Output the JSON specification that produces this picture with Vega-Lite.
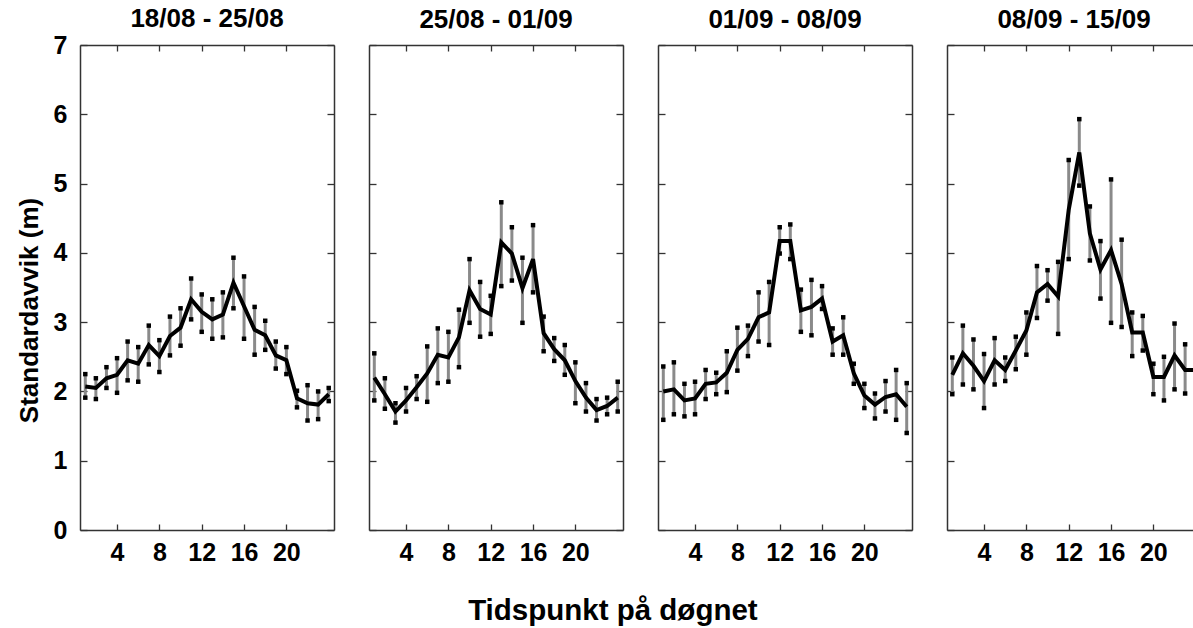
{
  "$schema": "https://vega.github.io/schema/vega-lite/v6.json",
  "padding": {"left": 16, "top": 6, "right": 0, "bottom": 0},
  "background": "white",
  "config": {
    "font": "Liberation Sans",
    "view": {"stroke": null},
    "axis": {"labelFont": "Liberation Sans", "labelFontWeight": "bold", "labelFontSize": 25, "labelColor": "black",
      "titleFont": "Liberation Sans", "titleFontWeight": "bold", "titleFontSize": 26, "titleColor": "black",
      "domainColor": "#333", "domainWidth": 1.5, "tickColor": "#333", "tickWidth": 1.3, "grid": false},
    "title": {"font": "Liberation Sans", "fontWeight": "bold", "fontSize": 26, "color": "black"},
    "concat": {"spacing": 29}
  },
  "title": {"text": "Tidspunkt på døgnet", "orient": "bottom", "anchor": "middle", "offset": 32, "dx": 3, "fontSize": 29.5, "fontWeight": "bold"},
  "datasets": {
    "d": [
      {"w": "18/08 - 25/08", "h": 1, "m": 2.07, "lo": 1.91, "hi": 2.25},
      {"w": "18/08 - 25/08", "h": 2, "m": 2.05, "lo": 1.89, "hi": 2.19},
      {"w": "18/08 - 25/08", "h": 3, "m": 2.19, "lo": 2.05, "hi": 2.35},
      {"w": "18/08 - 25/08", "h": 4, "m": 2.24, "lo": 1.98, "hi": 2.48},
      {"w": "18/08 - 25/08", "h": 5, "m": 2.45, "lo": 2.16, "hi": 2.72},
      {"w": "18/08 - 25/08", "h": 6, "m": 2.40, "lo": 2.14, "hi": 2.64},
      {"w": "18/08 - 25/08", "h": 7, "m": 2.67, "lo": 2.39, "hi": 2.95},
      {"w": "18/08 - 25/08", "h": 8, "m": 2.51, "lo": 2.28, "hi": 2.74},
      {"w": "18/08 - 25/08", "h": 9, "m": 2.80, "lo": 2.52, "hi": 3.08},
      {"w": "18/08 - 25/08", "h": 10, "m": 2.92, "lo": 2.66, "hi": 3.20},
      {"w": "18/08 - 25/08", "h": 11, "m": 3.33, "lo": 3.04, "hi": 3.63},
      {"w": "18/08 - 25/08", "h": 12, "m": 3.15, "lo": 2.86, "hi": 3.40},
      {"w": "18/08 - 25/08", "h": 13, "m": 3.04, "lo": 2.76, "hi": 3.33},
      {"w": "18/08 - 25/08", "h": 14, "m": 3.11, "lo": 2.78, "hi": 3.43},
      {"w": "18/08 - 25/08", "h": 15, "m": 3.57, "lo": 3.20, "hi": 3.93},
      {"w": "18/08 - 25/08", "h": 16, "m": 3.23, "lo": 2.76, "hi": 3.66},
      {"w": "18/08 - 25/08", "h": 17, "m": 2.89, "lo": 2.53, "hi": 3.22},
      {"w": "18/08 - 25/08", "h": 18, "m": 2.81, "lo": 2.60, "hi": 3.02},
      {"w": "18/08 - 25/08", "h": 19, "m": 2.52, "lo": 2.33, "hi": 2.72},
      {"w": "18/08 - 25/08", "h": 20, "m": 2.45, "lo": 2.25, "hi": 2.64},
      {"w": "18/08 - 25/08", "h": 21, "m": 1.90, "lo": 1.77, "hi": 2.01},
      {"w": "18/08 - 25/08", "h": 22, "m": 1.83, "lo": 1.58, "hi": 2.09},
      {"w": "18/08 - 25/08", "h": 23, "m": 1.81, "lo": 1.60, "hi": 2.00},
      {"w": "18/08 - 25/08", "h": 24, "m": 1.96, "lo": 1.86, "hi": 2.05},
      {"w": "25/08 - 01/09", "h": 1, "m": 2.20, "lo": 1.87, "hi": 2.55},
      {"w": "25/08 - 01/09", "h": 2, "m": 1.96, "lo": 1.75, "hi": 2.19},
      {"w": "25/08 - 01/09", "h": 3, "m": 1.71, "lo": 1.55, "hi": 1.83},
      {"w": "25/08 - 01/09", "h": 4, "m": 1.87, "lo": 1.71, "hi": 2.05},
      {"w": "25/08 - 01/09", "h": 5, "m": 2.06, "lo": 1.89, "hi": 2.22},
      {"w": "25/08 - 01/09", "h": 6, "m": 2.26, "lo": 1.85, "hi": 2.65},
      {"w": "25/08 - 01/09", "h": 7, "m": 2.53, "lo": 2.12, "hi": 2.91},
      {"w": "25/08 - 01/09", "h": 8, "m": 2.49, "lo": 2.14, "hi": 2.86},
      {"w": "25/08 - 01/09", "h": 9, "m": 2.78, "lo": 2.35, "hi": 3.18},
      {"w": "25/08 - 01/09", "h": 10, "m": 3.46, "lo": 2.99, "hi": 3.91},
      {"w": "25/08 - 01/09", "h": 11, "m": 3.19, "lo": 2.79, "hi": 3.58},
      {"w": "25/08 - 01/09", "h": 12, "m": 3.11, "lo": 2.83, "hi": 3.38},
      {"w": "25/08 - 01/09", "h": 13, "m": 4.15, "lo": 3.52, "hi": 4.73},
      {"w": "25/08 - 01/09", "h": 14, "m": 3.99, "lo": 3.60, "hi": 4.37},
      {"w": "25/08 - 01/09", "h": 15, "m": 3.49, "lo": 2.99, "hi": 3.93},
      {"w": "25/08 - 01/09", "h": 16, "m": 3.91, "lo": 3.43, "hi": 4.40},
      {"w": "25/08 - 01/09", "h": 17, "m": 2.84, "lo": 2.58, "hi": 3.08},
      {"w": "25/08 - 01/09", "h": 18, "m": 2.61, "lo": 2.44, "hi": 2.77},
      {"w": "25/08 - 01/09", "h": 19, "m": 2.45, "lo": 2.24, "hi": 2.67},
      {"w": "25/08 - 01/09", "h": 20, "m": 2.15, "lo": 1.83, "hi": 2.42},
      {"w": "25/08 - 01/09", "h": 21, "m": 1.91, "lo": 1.71, "hi": 2.12},
      {"w": "25/08 - 01/09", "h": 22, "m": 1.73, "lo": 1.58, "hi": 1.89},
      {"w": "25/08 - 01/09", "h": 23, "m": 1.79, "lo": 1.67, "hi": 1.91},
      {"w": "25/08 - 01/09", "h": 24, "m": 1.91, "lo": 1.71, "hi": 2.14},
      {"w": "01/09 - 08/09", "h": 1, "m": 2.00, "lo": 1.59, "hi": 2.36},
      {"w": "01/09 - 08/09", "h": 2, "m": 2.03, "lo": 1.67, "hi": 2.42},
      {"w": "01/09 - 08/09", "h": 3, "m": 1.87, "lo": 1.64, "hi": 2.11},
      {"w": "01/09 - 08/09", "h": 4, "m": 1.90, "lo": 1.67, "hi": 2.14},
      {"w": "01/09 - 08/09", "h": 5, "m": 2.11, "lo": 1.89, "hi": 2.31},
      {"w": "01/09 - 08/09", "h": 6, "m": 2.13, "lo": 1.96, "hi": 2.27},
      {"w": "01/09 - 08/09", "h": 7, "m": 2.27, "lo": 1.99, "hi": 2.58},
      {"w": "01/09 - 08/09", "h": 8, "m": 2.60, "lo": 2.30, "hi": 2.92},
      {"w": "01/09 - 08/09", "h": 9, "m": 2.76, "lo": 2.51, "hi": 2.95},
      {"w": "01/09 - 08/09", "h": 10, "m": 3.07, "lo": 2.72, "hi": 3.43},
      {"w": "01/09 - 08/09", "h": 11, "m": 3.14, "lo": 2.67, "hi": 3.58},
      {"w": "01/09 - 08/09", "h": 12, "m": 4.17, "lo": 3.99, "hi": 4.37},
      {"w": "01/09 - 08/09", "h": 13, "m": 4.17, "lo": 3.91, "hi": 4.41},
      {"w": "01/09 - 08/09", "h": 14, "m": 3.17, "lo": 2.86, "hi": 3.47},
      {"w": "01/09 - 08/09", "h": 15, "m": 3.22, "lo": 2.81, "hi": 3.61},
      {"w": "01/09 - 08/09", "h": 16, "m": 3.34, "lo": 3.19, "hi": 3.52},
      {"w": "01/09 - 08/09", "h": 17, "m": 2.72, "lo": 2.53, "hi": 2.91},
      {"w": "01/09 - 08/09", "h": 18, "m": 2.81, "lo": 2.53, "hi": 3.07},
      {"w": "01/09 - 08/09", "h": 19, "m": 2.26, "lo": 2.11, "hi": 2.40},
      {"w": "01/09 - 08/09", "h": 20, "m": 1.94, "lo": 1.76, "hi": 2.11},
      {"w": "01/09 - 08/09", "h": 21, "m": 1.81, "lo": 1.61, "hi": 1.97},
      {"w": "01/09 - 08/09", "h": 22, "m": 1.92, "lo": 1.71, "hi": 2.15},
      {"w": "01/09 - 08/09", "h": 23, "m": 1.96, "lo": 1.59, "hi": 2.31},
      {"w": "01/09 - 08/09", "h": 24, "m": 1.78, "lo": 1.40, "hi": 2.12},
      {"w": "08/09 - 15/09", "h": 1, "m": 2.24, "lo": 1.96, "hi": 2.49},
      {"w": "08/09 - 15/09", "h": 2, "m": 2.55, "lo": 2.10, "hi": 2.95},
      {"w": "08/09 - 15/09", "h": 3, "m": 2.37, "lo": 2.03, "hi": 2.75},
      {"w": "08/09 - 15/09", "h": 4, "m": 2.15, "lo": 1.76, "hi": 2.54},
      {"w": "08/09 - 15/09", "h": 5, "m": 2.45, "lo": 2.10, "hi": 2.77},
      {"w": "08/09 - 15/09", "h": 6, "m": 2.31, "lo": 2.15, "hi": 2.49},
      {"w": "08/09 - 15/09", "h": 7, "m": 2.59, "lo": 2.32, "hi": 2.79},
      {"w": "08/09 - 15/09", "h": 8, "m": 2.88, "lo": 2.53, "hi": 3.14},
      {"w": "08/09 - 15/09", "h": 9, "m": 3.43, "lo": 3.06, "hi": 3.81},
      {"w": "08/09 - 15/09", "h": 10, "m": 3.55, "lo": 3.31, "hi": 3.75},
      {"w": "08/09 - 15/09", "h": 11, "m": 3.37, "lo": 2.83, "hi": 3.87},
      {"w": "08/09 - 15/09", "h": 12, "m": 4.62, "lo": 3.91, "hi": 5.34},
      {"w": "08/09 - 15/09", "h": 13, "m": 5.45, "lo": 4.97, "hi": 5.93},
      {"w": "08/09 - 15/09", "h": 14, "m": 4.28, "lo": 3.89, "hi": 4.67},
      {"w": "08/09 - 15/09", "h": 15, "m": 3.76, "lo": 3.34, "hi": 4.17},
      {"w": "08/09 - 15/09", "h": 16, "m": 4.04, "lo": 2.99, "hi": 5.06},
      {"w": "08/09 - 15/09", "h": 17, "m": 3.55, "lo": 2.93, "hi": 4.19},
      {"w": "08/09 - 15/09", "h": 18, "m": 2.85, "lo": 2.51, "hi": 3.14},
      {"w": "08/09 - 15/09", "h": 19, "m": 2.85, "lo": 2.59, "hi": 3.09},
      {"w": "08/09 - 15/09", "h": 20, "m": 2.21, "lo": 1.96, "hi": 2.40},
      {"w": "08/09 - 15/09", "h": 21, "m": 2.21, "lo": 1.87, "hi": 2.50},
      {"w": "08/09 - 15/09", "h": 22, "m": 2.52, "lo": 2.03, "hi": 2.98},
      {"w": "08/09 - 15/09", "h": 23, "m": 2.31, "lo": 1.97, "hi": 2.68},
      {"w": "08/09 - 15/09", "h": 24, "m": 2.31, "lo": 2.01, "hi": 2.61}
    ]
  },
  "data": {"name": "d"},
  "hconcat": [
    {
      "width": 254, "height": 485,
      "title": {"text": "18/08 - 25/08", "offset": 1, "frame": "group"},
      "transform": [{"filter": "datum.w == '18/08 - 25/08'"}],
      "layer": [
        {"mark": {"type": "rule", "color": "#8a8a8a", "strokeWidth": 3},
         "encoding": {
           "x": {"field": "h", "type": "quantitative", "scale": {"domain": [0.5, 24.5], "nice": false, "zero": false},
                 "axis": {"orient": "bottom", "values": [4, 8, 12, 16, 20], "tickSize": -6, "labelPadding": 16, "title": null, "labelFlush": false}},
           "y": {"field": "lo", "type": "quantitative", "scale": {"domain": [0, 7], "nice": false},
                 "axis": {"orient": "left", "values": [0, 1, 2, 3, 4, 5, 6, 7], "tickSize": -7, "labelPadding": 20, "title": "Standardavvik (m)", "titlePadding": 11, "titleY": 265, "labelFlush": false}},
           "y2": {"field": "hi"}}},
        {"mark": {"type": "square", "color": "black", "size": 20, "opacity": 1},
         "encoding": {"x": {"field": "h", "type": "quantitative", "axis": null}, "y": {"field": "lo", "type": "quantitative", "axis": null}}},
        {"mark": {"type": "square", "color": "black", "size": 20, "opacity": 1},
         "encoding": {"x": {"field": "h", "type": "quantitative", "axis": null}, "y": {"field": "hi", "type": "quantitative", "axis": null}}},
        {"mark": {"type": "line", "color": "black", "strokeWidth": 4},
         "encoding": {
           "x": {"field": "h", "type": "quantitative", "axis": {"orient": "top", "values": [4, 8, 12, 16, 20], "tickSize": -6, "labels": false, "title": null}},
           "y": {"field": "m", "type": "quantitative", "axis": {"orient": "right", "values": [0, 1, 2, 3, 4, 5, 6, 7], "tickSize": -7, "labels": false, "title": null}}}}
      ],
      "resolve": {"axis": {"x": "independent", "y": "independent"}}
    },
    {
      "width": 254, "height": 485,
      "title": {"text": "25/08 - 01/09", "offset": 11, "frame": "group"},
      "transform": [{"filter": "datum.w == '25/08 - 01/09'"}],
      "layer": [
        {"mark": {"type": "rule", "color": "#8a8a8a", "strokeWidth": 3},
         "encoding": {
           "x": {"field": "h", "type": "quantitative", "scale": {"domain": [0.5, 24.5], "nice": false, "zero": false},
                 "axis": {"orient": "bottom", "values": [4, 8, 12, 16, 20], "tickSize": -6, "labelPadding": 16, "title": null, "labelFlush": false}},
           "y": {"field": "lo", "type": "quantitative", "scale": {"domain": [0, 7], "nice": false},
                 "axis": {"orient": "left", "values": [0, 1, 2, 3, 4, 5, 6, 7], "tickSize": -7, "labels": false, "title": null}},
           "y2": {"field": "hi"}}},
        {"mark": {"type": "square", "color": "black", "size": 20, "opacity": 1},
         "encoding": {"x": {"field": "h", "type": "quantitative", "axis": null}, "y": {"field": "lo", "type": "quantitative", "axis": null}}},
        {"mark": {"type": "square", "color": "black", "size": 20, "opacity": 1},
         "encoding": {"x": {"field": "h", "type": "quantitative", "axis": null}, "y": {"field": "hi", "type": "quantitative", "axis": null}}},
        {"mark": {"type": "line", "color": "black", "strokeWidth": 4},
         "encoding": {
           "x": {"field": "h", "type": "quantitative", "axis": {"orient": "top", "values": [4, 8, 12, 16, 20], "tickSize": -6, "labels": false, "title": null}},
           "y": {"field": "m", "type": "quantitative", "axis": {"orient": "right", "values": [0, 1, 2, 3, 4, 5, 6, 7], "tickSize": -7, "labels": false, "title": null}}}}
      ],
      "resolve": {"axis": {"x": "independent", "y": "independent"}}
    },
    {
      "width": 254, "height": 485,
      "title": {"text": "01/09 - 08/09", "offset": 11, "frame": "group"},
      "transform": [{"filter": "datum.w == '01/09 - 08/09'"}],
      "layer": [
        {"mark": {"type": "rule", "color": "#8a8a8a", "strokeWidth": 3},
         "encoding": {
           "x": {"field": "h", "type": "quantitative", "scale": {"domain": [0.5, 24.5], "nice": false, "zero": false},
                 "axis": {"orient": "bottom", "values": [4, 8, 12, 16, 20], "tickSize": -6, "labelPadding": 16, "title": null, "labelFlush": false}},
           "y": {"field": "lo", "type": "quantitative", "scale": {"domain": [0, 7], "nice": false},
                 "axis": {"orient": "left", "values": [0, 1, 2, 3, 4, 5, 6, 7], "tickSize": -7, "labels": false, "title": null}},
           "y2": {"field": "hi"}}},
        {"mark": {"type": "square", "color": "black", "size": 20, "opacity": 1},
         "encoding": {"x": {"field": "h", "type": "quantitative", "axis": null}, "y": {"field": "lo", "type": "quantitative", "axis": null}}},
        {"mark": {"type": "square", "color": "black", "size": 20, "opacity": 1},
         "encoding": {"x": {"field": "h", "type": "quantitative", "axis": null}, "y": {"field": "hi", "type": "quantitative", "axis": null}}},
        {"mark": {"type": "line", "color": "black", "strokeWidth": 4},
         "encoding": {
           "x": {"field": "h", "type": "quantitative", "axis": {"orient": "top", "values": [4, 8, 12, 16, 20], "tickSize": -6, "labels": false, "title": null}},
           "y": {"field": "m", "type": "quantitative", "axis": {"orient": "right", "values": [0, 1, 2, 3, 4, 5, 6, 7], "tickSize": -7, "labels": false, "title": null}}}}
      ],
      "resolve": {"axis": {"x": "independent", "y": "independent"}}
    },
    {
      "width": 254, "height": 485,
      "title": {"text": "08/09 - 15/09", "offset": 11, "frame": "group"},
      "transform": [{"filter": "datum.w == '08/09 - 15/09'"}],
      "layer": [
        {"mark": {"type": "rule", "color": "#8a8a8a", "strokeWidth": 3},
         "encoding": {
           "x": {"field": "h", "type": "quantitative", "scale": {"domain": [0.5, 24.5], "nice": false, "zero": false},
                 "axis": {"orient": "bottom", "values": [4, 8, 12, 16, 20], "tickSize": -6, "labelPadding": 16, "title": null, "labelFlush": false}},
           "y": {"field": "lo", "type": "quantitative", "scale": {"domain": [0, 7], "nice": false},
                 "axis": {"orient": "left", "values": [0, 1, 2, 3, 4, 5, 6, 7], "tickSize": -7, "labels": false, "title": null}},
           "y2": {"field": "hi"}}},
        {"mark": {"type": "square", "color": "black", "size": 20, "opacity": 1},
         "encoding": {"x": {"field": "h", "type": "quantitative", "axis": null}, "y": {"field": "lo", "type": "quantitative", "axis": null}}},
        {"mark": {"type": "square", "color": "black", "size": 20, "opacity": 1},
         "encoding": {"x": {"field": "h", "type": "quantitative", "axis": null}, "y": {"field": "hi", "type": "quantitative", "axis": null}}},
        {"mark": {"type": "line", "color": "black", "strokeWidth": 4},
         "encoding": {
           "x": {"field": "h", "type": "quantitative", "axis": {"orient": "top", "values": [4, 8, 12, 16, 20], "tickSize": -6, "labels": false, "title": null}},
           "y": {"field": "m", "type": "quantitative", "axis": {"orient": "right", "values": [0, 1, 2, 3, 4, 5, 6, 7], "tickSize": -7, "labels": false, "title": null}}}}
      ],
      "resolve": {"axis": {"x": "independent", "y": "independent"}}
    }
  ]
}
